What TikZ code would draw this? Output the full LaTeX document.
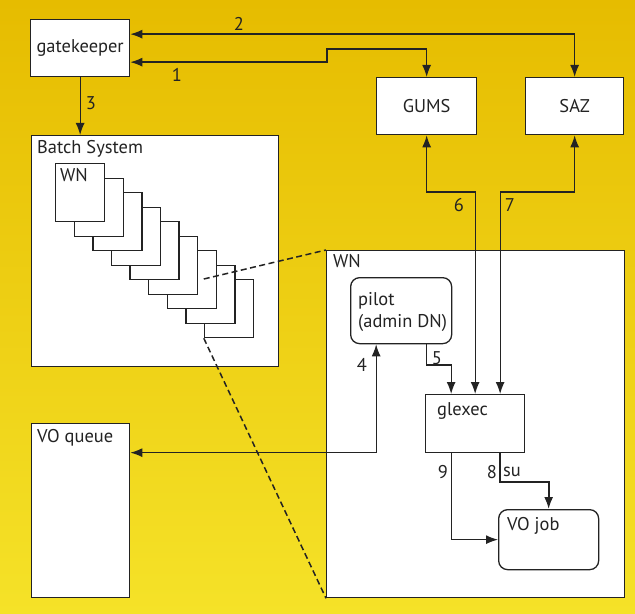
\documentclass[tikz,border=0pt]{standalone}
\usepackage{fontspec}
\setmainfont{PT Sans}
\usetikzlibrary{arrows.meta, positioning, calc}
\definecolor{goldtop}{RGB}{230,188,0}
\definecolor{goldbot}{RGB}{245,226,40}
\definecolor{ink}{RGB}{35,35,35}
\tikzset{
  box/.style={
    rectangle, draw=ink, fill=white, line width=1.3bp, inner sep=0pt,
    anchor=north west, text=ink, font=\fontsize{18.5}{22}\selectfont
  },
  roundbox/.style={box, rounded corners=9bp},
  tag/.style={font=\fontsize{18.5}{22}\selectfont, text=ink, inner sep=0pt, anchor=base west, align=left},
  num/.style={font=\fontsize{18.5}{22}\selectfont, text=ink, inner sep=0pt},
  link/.style={draw=ink, line width=1.3bp},
  headed/.style={link, -{Latex[length=12bp,width=9bp]}},
  dualheaded/.style={link, {Latex[length=12bp,width=9bp]}-{Latex[length=12bp,width=9bp]}},
  zoomline/.style={draw=ink, line width=1.5bp, dash pattern=on 6bp off 3.5bp}
}
\begin{document}
\begin{tikzpicture}[x=1bp, y=-1bp]
\useasboundingbox (0,0) rectangle (635,614);
\shade[top color=goldtop, bottom color=goldbot] (0,0) rectangle (635,614);

\node[box, minimum width=99bp, minimum height=57bp] (gatekeeper) at (30,19) {gatekeeper};
\node[box, minimum width=100bp, minimum height=57bp] (gums) at (376,77) {GUMS};
\node[box, minimum width=98bp, minimum height=57bp] (saz) at (525,77) {SAZ};

\node[box, minimum width=247bp, minimum height=231bp] (batch) at (31,135) {};
\node[tag] (batchtxt) at ([xshift=6bp,yshift=-19bp]batch.north west) {Batch System};
\foreach \i in {8,...,0}
  \node[box, minimum width=49bp, minimum height=58bp] (wn\i) at ({55+18.6*\i},{163+14.5*\i}) {};
\node[tag] (wntxt) at ([xshift=5bp,yshift=-19bp]wn0.north west) {WN};

\node[box, minimum width=98bp, minimum height=174bp] (voqueue) at (31,423) {};
\node[tag] (voqueuetxt) at ([xshift=6bp,yshift=-19bp]voqueue.north west) {VO queue};

\node[box, minimum width=298bp, minimum height=347bp] (bigwn) at (326,250) {};
\node[tag] (bigwntxt) at ([xshift=7bp,yshift=-17bp]bigwn.north west) {WN};
\draw[zoomline] (wn8.north west) -- (bigwn.north west);
\draw[zoomline] (wn8.south west) -- (bigwn.south west);

\node[roundbox, minimum width=101bp, minimum height=66bp] (pilot) at (350,277) {};
\node[tag] (pilottxt) at ([xshift=8bp,yshift=-50bp]pilot.north west) {pilot\\(admin DN)};
\node[box, minimum width=99bp, minimum height=58bp] (glexec) at (425,394) {};
\node[tag] (glexectxt) at ([xshift=12bp,yshift=-21bp]glexec.north west) {glexec};
\node[roundbox, minimum width=100bp, minimum height=60bp] (vojob) at (498,509) {};
\node[tag] (vojobtxt) at ([xshift=9bp,yshift=-21bp]vojob.north west) {VO job};

\coordinate (bend1) at (327,49);
\draw[dualheaded] ([yshift=14bp]gatekeeper.east) -| (saz.north);
\draw[dualheaded] ([yshift=-14bp]gatekeeper.east) -| (bend1) -| (gums.north);
\draw[headed] (gatekeeper.south) -- (gatekeeper.south |- batch.north);
\draw[dualheaded] ([yshift=58bp]voqueue.east) -| ([xshift=-25bp]pilot.south);
\draw[headed] ([xshift=25bp]pilot.south) |- ([xshift=-24bp,yshift=29bp]glexec.north) -- ([xshift=-24bp]glexec.north);
\draw[dualheaded] (gums.south) |- ([yshift=202bp]glexec.north) -- (glexec.north);
\draw[dualheaded] (saz.south) |- ([xshift=25bp,yshift=202bp]glexec.north) -- ([xshift=25bp]glexec.north);
\draw[headed, line width=1.8bp] ([xshift=25bp]glexec.south) |- ([yshift=27bp]vojob.north) -- (vojob.north);
\draw[headed] ([xshift=-24bp]glexec.south) |- (vojob.west);

\node[num] (n1) at (177,75) {1};
\node[num] (n2) at (239,24) {2};
\node[num] (n3) at (91,103) {3};
\node[num] (n4) at (362,365) {4};
\node[num] (n5) at (437,358) {5};
\node[num] (n6) at (459,205) {6};
\node[num] (n7) at (510,205) {7};
\node[num] (n8) at (492,472) {8};
\node[num] (nsu) at (512,472) {su};
\node[num] (n9) at (443,472) {9};
\end{tikzpicture}
\end{document}
